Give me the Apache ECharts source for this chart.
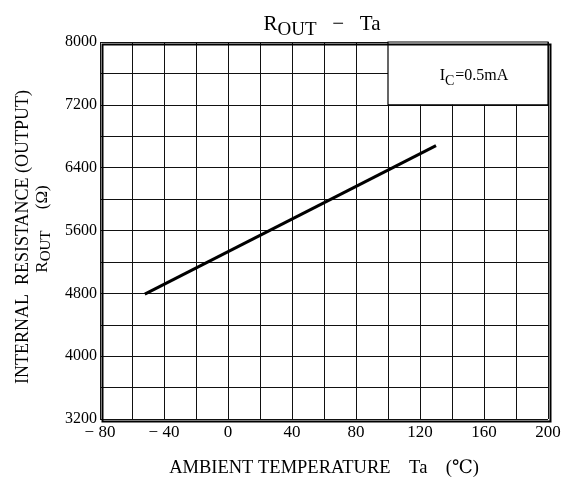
<!DOCTYPE html>
<html><head><meta charset="utf-8">
<script src="https://cdn.jsdelivr.net/npm/echarts@6/dist/echarts.min.js"></script>
<style>html,body{margin:0;padding:0;background:#fff}#c{width:579px;height:482px}</style>
</head><body><div id="c"></div>
<script>
// Data
const temperature = [-52, 130];          // Ta (°C)
const rout = [4790, 6680];               // R_OUT (Ω)
const xTicks = [-80, -40, 0, 40, 80, 120, 160, 200];
const yTicks = [3200, 4000, 4800, 5600, 6400, 7200, 8000];
const noteBox = [[100, 7200], [200, 8000]];

const F = '"Liberation Serif", "DejaVu Serif", serif';
const chart = echarts.init(document.getElementById('c'), null, {renderer: 'canvas'});
const pts = temperature.map((t, i) => [t, rout[i]]);

chart.setOption({
  animation: false,
  backgroundColor: '#fff',
  grid: {left: 100, right: 31, top: 42, bottom: 63},
  xAxis: {
    type: 'value', min: xTicks[0], max: xTicks[xTicks.length - 1], interval: 20,
    axisLine: {show: false}, axisTick: {show: false},
    axisLabel: {
      fontFamily: F, fontSize: 17, color: '#000', margin: 5,
      formatter: v => xTicks.includes(v) ? (v < 0 ? '− ' + Math.abs(v) : String(v)) : ''
    },
    splitLine: {show: true, lineStyle: {color: '#111', width: 1}}
  },
  yAxis: {
    type: 'value', min: yTicks[0], max: yTicks[yTicks.length - 1], interval: 400,
    axisLine: {show: false}, axisTick: {show: false},
    axisLabel: {
      fontFamily: F, fontSize: 16, color: '#000', margin: 3,
      formatter: v => yTicks.includes(v) ? String(v) : ''
    },
    splitLine: {show: true, lineStyle: {color: '#111', width: 1}}
  },
  series: [{
    type: 'line', data: pts, symbol: 'none',
    lineStyle: {color: '#000', width: 3},
    z: 5,
    markArea: {
      silent: true,
      itemStyle: {color: '#fff', borderColor: '#000', borderWidth: 1.2},
      data: [[{coord: noteBox[0]}, {coord: noteBox[1]}]]
    }
  }],
  graphic: [
    {type: 'rect', left: 100, top: 42, z: 10, silent: true,
     shape: {width: 448, height: 377},
     style: {fill: 'none', stroke: '#000', lineWidth: 2}},
    {type: 'text', x: 322, y: 22, z: 11,
     style: {text: '{r|R}{s|OUT}{r|   −   Ta}', align: 'center', verticalAlign: 'middle', rich: {
       r: {fontFamily: F, fontSize: 21, fill: '#000', verticalAlign: 'bottom', lineHeight: 26},
       s: {fontFamily: F, fontSize: 19, fill: '#000', verticalAlign: 'bottom', padding: [0, 0, -5, 0], lineHeight: 26}
     }}},
    {type: 'text', x: 474, y: 74, z: 11,
     style: {text: '{a|I}{b|C}{a|=0.5mA}', align: 'center', verticalAlign: 'middle', rich: {
       a: {fontFamily: F, fontSize: 16, fill: '#000', verticalAlign: 'bottom', lineHeight: 20},
       b: {fontFamily: F, fontSize: 14, fill: '#000', verticalAlign: 'bottom', padding: [0, 1, -4, 0], lineHeight: 20}
     }}},
    {type: 'text', x: 23, y: 237, rotation: Math.PI / 2, z: 11,
     style: {text: 'INTERNAL  RESISTANCE (OUTPUT)', fontFamily: F, fontSize: 18, fill: '#000',
             align: 'center', verticalAlign: 'middle'}},
    {type: 'text', x: 41, y: 229, rotation: Math.PI / 2, z: 11,
     style: {text: '{a|R}{b|OUT}{a|     (Ω)}', align: 'center', verticalAlign: 'middle', rich: {
       a: {fontFamily: F, fontSize: 17, fill: '#000', verticalAlign: 'bottom', lineHeight: 20},
       b: {fontFamily: F, fontSize: 15, fill: '#000', verticalAlign: 'bottom', padding: [0, 0, -3, 0], lineHeight: 20}
     }}},
    {type: 'text', x: 324, y: 468, z: 11,
     style: {text: 'AMBIENT TEMPERATURE    Ta    (℃)', fontFamily: F, fontSize: 18.5, fill: '#000',
             align: 'center', verticalAlign: 'middle'}}
  ]
});
</script>
</body></html>
